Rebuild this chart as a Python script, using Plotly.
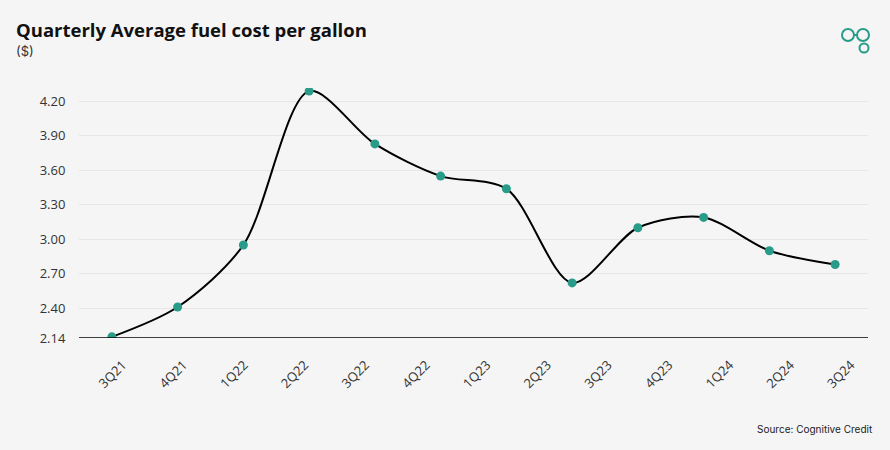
import plotly.graph_objects as go

title = "Quarterly Average fuel cost per gallon"
subtitle = "($)"
source = "Source: Cognitive Credit"

quarter_labels = ["3Q21", "4Q21", "1Q22", "2Q22", "3Q22", "4Q22", "1Q23",
                  "2Q23", "3Q23", "4Q23", "1Q24", "2Q24", "3Q24"]
fuel_cost = [2.15, 2.41, 2.95, 4.29, 3.83, 3.55, 3.44, 2.62, 3.10, 3.19, 2.90, 2.78]

y_ticks = [2.14, 2.40, 2.70, 3.00, 3.30, 3.60, 3.90, 4.20, 4.317]
y_ticktext = ["2.14", "2.40", "2.70", "3.00", "3.30", "3.60", "3.90", "4.20", ""]

teal = "#289c88"
bg = "#f5f5f5"
PH = 250  # plot height in px
PW = 789  # plot width in px

fig = go.Figure()
fig.add_trace(go.Scatter(
    x=list(range(len(fuel_cost))), y=fuel_cost, mode="lines+markers",
    line=dict(color="#000000", width=2, shape="spline", smoothing=0.85),
    marker=dict(color=teal, size=9),
    hoverinfo="y", showlegend=False, xaxis="x", yaxis="y"))
# invisible trace carrying the quarter label axis
fig.add_trace(go.Scatter(
    x=list(range(len(quarter_labels))), y=[None] * len(quarter_labels),
    mode="markers", showlegend=False, hoverinfo="skip", xaxis="x2", yaxis="y"))

fig.update_layout(
    width=890, height=450,
    paper_bgcolor=bg, plot_bgcolor=bg,
    margin=dict(l=79, r=22, t=88, b=112),
    font=dict(family="Open Sans", color="#333333"),
    xaxis=dict(range=[-0.5, len(fuel_cost) - 0.5], showticklabels=False,
               showgrid=False, zeroline=False, ticks=""),
    xaxis2=dict(range=[-0.72, len(quarter_labels) - 0.72], overlaying="x",
                anchor="y", side="bottom",
                tickvals=list(range(len(quarter_labels))), ticktext=quarter_labels,
                tickangle=-45, tickfont=dict(size=13, color="#333333", family="Open Sans"),
                showgrid=False, zeroline=False, ticks="", ticklabelstandoff=16),
    yaxis=dict(range=[2.14, 4.317], tickvals=y_ticks, ticktext=y_ticktext,
               showgrid=True, gridcolor="#e6e6e6", gridwidth=1,
               zeroline=False, showline=False,
               ticks="outside", ticklen=10, tickcolor=bg,
               tickfont=dict(size=13, color="#333333", family="Open Sans")),
    shapes=[
        dict(type="line", xref="paper", yref="y", x0=0, x1=1, y0=2.14, y1=2.14,
             line=dict(color="#000000", width=1.5), layer="above"),
        dict(type="circle", xref="paper", yref="paper", xsizemode="pixel",
             ysizemode="pixel", xanchor=1, yanchor=1,
             x0=-26, x1=-14, y0=47, y1=59, line=dict(color=teal, width=2)),
        dict(type="circle", xref="paper", yref="paper", xsizemode="pixel",
             ysizemode="pixel", xanchor=1, yanchor=1,
             x0=-11, x1=1, y0=47, y1=59, line=dict(color=teal, width=2)),
        dict(type="line", xref="paper", yref="paper", xsizemode="pixel",
             ysizemode="pixel", xanchor=1, yanchor=1,
             x0=-14, x1=-11, y0=53, y1=53, line=dict(color=teal, width=2)),
        dict(type="circle", xref="paper", yref="paper", xsizemode="pixel",
             ysizemode="pixel", xanchor=1, yanchor=1,
             x0=-8.5, x1=0.5, y0=35.5, y1=44.5, line=dict(color=teal, width=2)),
    ],
    annotations=[
        dict(text="<b>" + title + "</b>", xref="paper", yref="paper",
             x=(14 - 79) / PW, y=1 + 59 / PH, xanchor="left", yanchor="middle",
             showarrow=False, font=dict(family="Open Sans", size=18.5, color="#111111")),
        dict(text=subtitle, xref="paper", yref="paper",
             x=(14 - 79) / PW, y=1 + 37 / PH, xanchor="left", yanchor="middle",
             showarrow=False, font=dict(family="Inter", size=13, color="#333333")),
        dict(text=source, xref="paper", yref="paper",
             x=1 + 7 / PW, y=-91 / PH, xanchor="right", yanchor="middle",
             showarrow=False, font=dict(family="Inter", size=10, color="#222222")),
    ],
)

fig.write_html("out.html", config={"displayModeBar": False},
               post_script="document.body.style.margin='0';document.body.style.padding='0';")
